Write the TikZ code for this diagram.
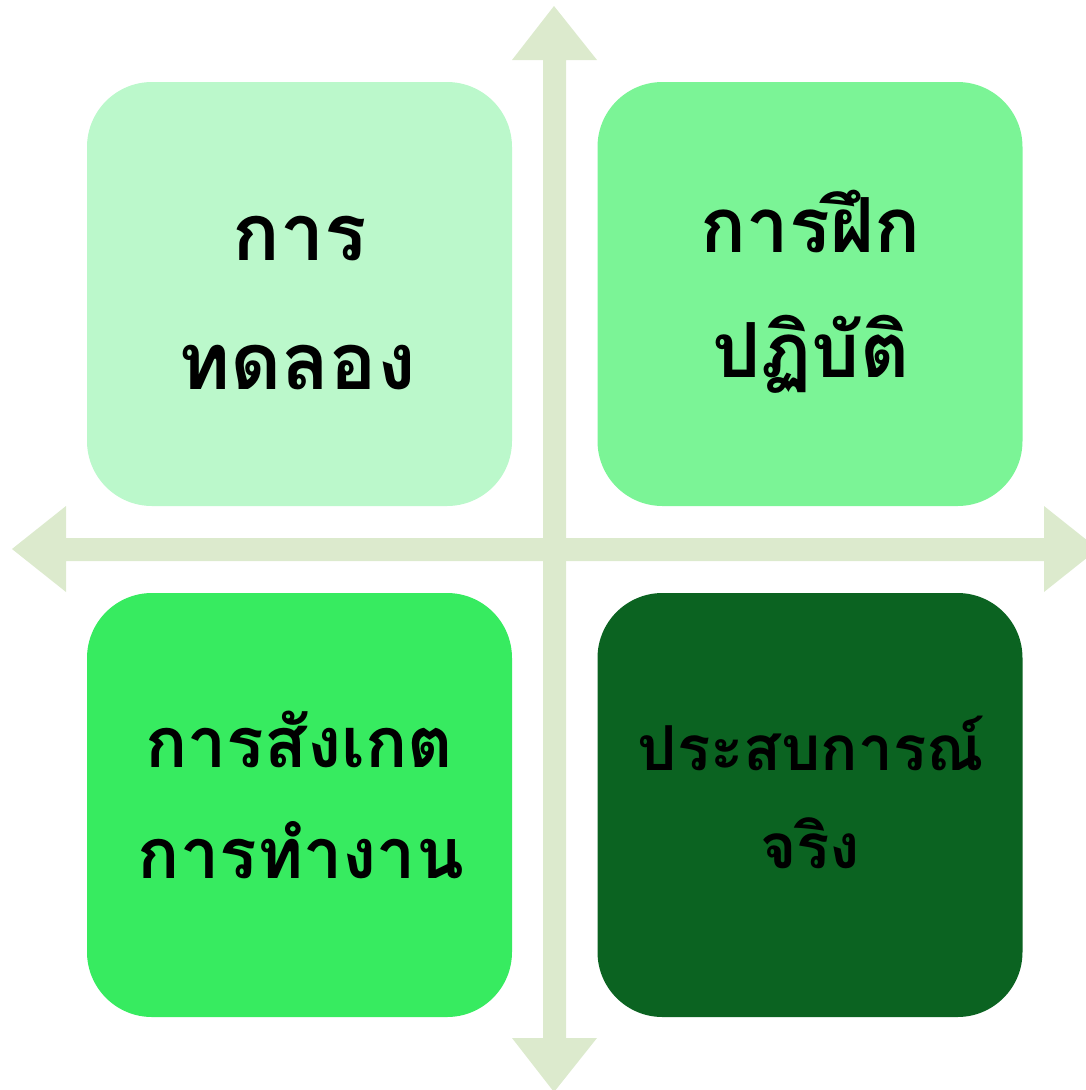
\documentclass[tikz,border=0pt]{standalone}
\usepackage{fontspec}
\newfontfamily\thaifont[Script=Thai]{Loma}
\definecolor{axisc}{HTML}{DCEACD}
\definecolor{ctl}{HTML}{BBF8CB}
\definecolor{ctr}{HTML}{7BF496}
\definecolor{cbl}{HTML}{37EB60}
\definecolor{cbr}{HTML}{0B6321}
\tikzset{
  quad/.style={rectangle, rounded corners=65pt, minimum width=425pt, minimum height=424pt, inner sep=0pt, draw=none},
  word/.style={anchor=base, inner sep=0pt, text=black, font=\thaifont\bfseries}
}
\begin{document}
\begin{tikzpicture}[x=1pt,y=-1pt]
\useasboundingbox (0,0) rectangle (1086,1090);
% axes
\fill[axisc] (12,549) -- (66,506) -- (66,538) -- (1044,538) -- (1044,506) -- (1098,549) -- (1044,592) -- (1044,561) -- (66,561) -- (66,592) -- cycle;
\fill[axisc] (554,6) -- (597,60) -- (566,60) -- (566,1038) -- (597,1038) -- (554,1092) -- (512,1038) -- (543,1038) -- (543,60) -- (512,60) -- cycle;
% boxes
\node[quad, fill=ctl] (tl) at (299.5,294) {};
\node[quad, fill=ctr] (tr) at (810,294) {};
\node[quad, fill=cbl] (bl) at (299.5,805) {};
\node[quad, fill=cbr] (br) at (810,805) {};
% texts
\node[word, font=\thaifont\bfseries\fontsize{79}{90}\selectfont] (tla) at (300,260) {การ};
\node[word, font=\thaifont\bfseries\fontsize{79}{90}\selectfont] (tlb) at (297,389) {ทดลอง};
\node[word, font=\thaifont\bfseries\fontsize{76}{90}\selectfont] (tra) at (811,252) {การฝึก};
\node[word, font=\thaifont\bfseries\fontsize{76}{90}\selectfont] (trb) at (811,377) {ปฏิบัติ};
\node[word, font=\thaifont\bfseries\fontsize{70}{90}\selectfont] (bla) at (299,767) {การสังเกต};
\node[word, font=\thaifont\bfseries\fontsize{70}{90}\selectfont] (blb) at (301,878) {การทำงาน};
\node[word, font=\thaifont\bfseries\fontsize{62}{90}\selectfont] (bra) at (811,770) {ประสบการณ์};
\node[word, font=\thaifont\bfseries\fontsize{62}{90}\selectfont] (brb) at (810,868) {จริง};
\end{tikzpicture}
\end{document}
